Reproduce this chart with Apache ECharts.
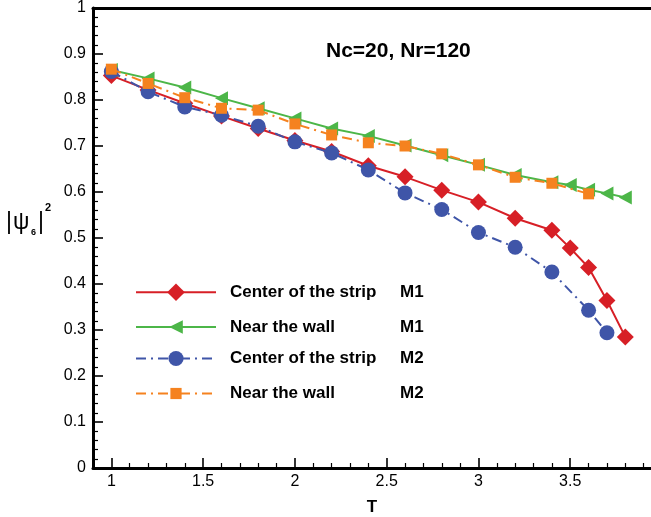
<!DOCTYPE html>
<html>
<head>
<meta charset="utf-8">
<script src="https://cdn.jsdelivr.net/npm/echarts@6/dist/echarts.min.js"></script>
<style>
  html, body { margin: 0; padding: 0; background: #fff; }
  #chart { width: 651px; height: 517px; }
</style>
</head>
<body>
<div id="chart"></div>
<script>
// Order parameter |psi_6|^2 against temperature T
const tM1 = [1.0, 1.2, 1.4, 1.6, 1.8, 2.0, 2.2, 2.4, 2.6, 2.8, 3.0, 3.2, 3.4, 3.5, 3.6, 3.7, 3.8];
const centerM1 = [0.853, 0.822, 0.793, 0.765, 0.738, 0.712, 0.688, 0.657, 0.633, 0.604, 0.578, 0.543, 0.517, 0.478, 0.436, 0.364, 0.285];
const wallM1 = [0.865, 0.847, 0.827, 0.804, 0.782, 0.760, 0.738, 0.722, 0.701, 0.680, 0.659, 0.637, 0.621, 0.615, 0.605, 0.597, 0.588];

const tCenterM2 = [1.0, 1.2, 1.4, 1.6, 1.8, 2.0, 2.2, 2.4, 2.6, 2.8, 3.0, 3.2, 3.4, 3.6, 3.7];
const centerM2 = [0.862, 0.818, 0.785, 0.767, 0.743, 0.709, 0.685, 0.648, 0.598, 0.562, 0.512, 0.480, 0.426, 0.343, 0.294];

const tWallM2 = [1.0, 1.2, 1.4, 1.6, 1.8, 2.0, 2.2, 2.4, 2.6, 2.8, 3.0, 3.2, 3.4, 3.6];
const wallM2 = [0.867, 0.836, 0.805, 0.782, 0.778, 0.748, 0.724, 0.707, 0.700, 0.683, 0.659, 0.632, 0.619, 0.596];

const xTickLabels = [1, 1.5, 2, 2.5, 3, 3.5];
const locations = ['Center of the strip', 'Near the wall', 'Center of the strip', 'Near the wall'];
const methods = ['M1', 'M1', 'M2', 'M2'];
const titleText = 'Nc=20, Nr=120';

const names = locations.map((l, i) => l + '  ' + methods[i]);
const pairs = (xs, ys) => xs.map((x, i) => [x, ys[i]]);

// minor ticks every 0.1 on T
const xMinor = [];
for (let k = 9; k <= 39; k++) if (k % 5 !== 0) xMinor.push(k / 10);

const FONT = "'Liberation Sans', Arial, Helvetica, sans-serif";
const red = '#d71f26', green = '#4cb648', blue = '#3f55a8', orange = '#f5821f';

const dashDot = [10, 5, 2, 5];

const seriesDefs = [
  { data: pairs(tM1, centerM1), color: red, symbol: 'diamond', size: [17, 17], type: 'solid', legendH: 22 },
  { data: pairs(tM1, wallM1), color: green, symbol: 'path://M0,6 L12,0 L12,12 Z', size: [13, 14], type: 'solid', legendH: 17 },
  { data: pairs(tCenterM2, centerM2), color: blue, symbol: 'circle', size: 15, type: dashDot, legendH: 19 },
  { data: pairs(tWallM2, wallM2), color: orange, symbol: 'rect', size: 11, type: dashDot, legendH: 14 }
];

const legendRowCenters = [294.5, 327, 359.5, 392];

const chart = echarts.init(document.getElementById('chart'), null, { renderer: 'canvas' });

const legendFormatter = (name) => {
  const i = names.indexOf(name);
  return '{a|' + locations[i] + '}{b|' + methods[i] + '}';
};

const option = {
  animation: false,
  backgroundColor: '#fff',
  textStyle: { fontFamily: FONT },
  grid: { left: 93, right: 0, top: 8, bottom: 49, containLabel: false, outerBoundsMode: 'none' },
  xAxis: [
    {
      type: 'value', min: 0.9, max: 3.94, position: 'bottom',
      name: 'T', nameLocation: 'middle', nameGap: 31,
      nameTextStyle: { color: '#000', fontSize: 17, fontWeight: 'bold', fontFamily: FONT },
      axisLine: { show: true, onZero: false, lineStyle: { color: '#000', width: 3 } },
      axisTick: { show: true, inside: true, length: 10, customValues: xTickLabels, lineStyle: { color: '#000', width: 1.6 } },
      axisLabel: { show: true, customValues: xTickLabels, margin: 6, color: '#000', fontSize: 16, fontFamily: FONT },
      splitLine: { show: false }
    },
    {
      type: 'value', min: 0.9, max: 3.94, position: 'bottom',
      axisLine: { show: false },
      axisTick: { show: true, inside: true, length: 5, customValues: xMinor, lineStyle: { color: '#000', width: 1.2 } },
      axisLabel: { show: false },
      splitLine: { show: false }
    },
    {
      type: 'value', min: 0.9, max: 3.94, position: 'top',
      axisLine: { show: true, onZero: false, lineStyle: { color: '#000', width: 3 } },
      axisTick: { show: false }, axisLabel: { show: false }, splitLine: { show: false }
    }
  ],
  yAxis: {
    type: 'value', min: 0, max: 1, interval: 0.1,
    axisLine: { show: true, onZero: false, lineStyle: { color: '#000', width: 3 } },
    axisTick: { show: true, inside: true, length: 10, lineStyle: { color: '#000', width: 1.6 } },
    minorTick: { show: true, splitNumber: 5, length: 5, lineStyle: { color: '#000', width: 1.2 } },
    axisLabel: { margin: 7, color: '#000', fontSize: 16, fontFamily: FONT },
    splitLine: { show: false }
  },
  legend: seriesDefs.map((s, i) => ({
    data: [names[i]],
    left: 135,
    top: legendRowCenters[i] - s.legendH / 2,
    padding: 0,
    itemWidth: 80,
    itemHeight: s.legendH,
    selectedMode: false,
    formatter: legendFormatter,
    textStyle: {
      color: '#000',
      rich: {
        a: { fontSize: 17, fontWeight: 'bold', fontFamily: FONT, color: '#000', width: 170, padding: [0, 0, 0, 9] },
        b: { fontSize: 17, fontWeight: 'bold', fontFamily: FONT, color: '#000' }
      }
    }
  })),
  series: seriesDefs.map((s, i) => ({
    name: names[i],
    type: 'line',
    data: s.data,
    symbol: s.symbol,
    symbolSize: s.size,
    showAllSymbol: true,
    lineStyle: { color: s.color, width: 2, type: s.type },
    itemStyle: { color: s.color, borderWidth: 0 },
    z: 2 + i
  })),
  graphic: [
    { type: 'text', left: 326, top: 41, style: { text: titleText, font: 'bold 21px ' + FONT, fill: '#000' } },
    { type: 'text', x: 6, y: 223, style: { text: '|', font: '23px ' + FONT, fill: '#000', verticalAlign: 'middle' } },
    { type: 'text', x: 13, y: 223, style: { text: 'ψ', font: '23px ' + FONT, fill: '#000', verticalAlign: 'middle' } },
    { type: 'text', x: 31, y: 233, style: { text: '6', font: 'bold 9px ' + FONT, fill: '#000', verticalAlign: 'middle' } },
    { type: 'text', x: 38, y: 223, style: { text: '|', font: '23px ' + FONT, fill: '#000', verticalAlign: 'middle' } },
    { type: 'text', x: 45, y: 208, style: { text: '2', font: 'bold 11px ' + FONT, fill: '#000', verticalAlign: 'middle' } }
  ]
};

chart.setOption(option);
</script>
</body>
</html>
